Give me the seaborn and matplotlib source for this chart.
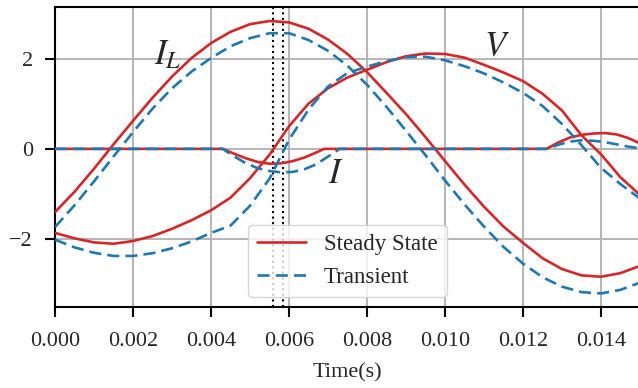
import matplotlib

matplotlib.use("Agg")
import matplotlib.pyplot as plt
import seaborn as sns

t_grid = [0.0, 0.0005, 0.001, 0.0015, 0.002, 0.0025, 0.003, 0.0035, 0.004, 0.0045,
          0.005, 0.0055, 0.006, 0.0065, 0.007, 0.0075, 0.008, 0.0085, 0.009, 0.0095,
          0.010, 0.0105, 0.011, 0.0115, 0.012, 0.0125, 0.013, 0.0135, 0.014, 0.0145,
          0.015]

il_steady = [-1.40, -0.95, -0.44, 0.10, 0.62, 1.13, 1.60, 2.01, 2.34, 2.59,
             2.76, 2.83, 2.80, 2.66, 2.42, 2.10, 1.70, 1.24, 0.77, 0.26,
             -0.27, -0.79, -1.28, -1.72, -2.08, -2.42, -2.66, -2.80, -2.83, -2.75,
             -2.59]
il_transient = [-1.73, -1.25, -0.72, -0.17, 0.37, 0.89, 1.34, 1.71, 2.01, 2.27,
                2.45, 2.56, 2.56, 2.41, 2.17, 1.84, 1.42, 0.93, 0.40, -0.14,
                -0.70, -1.23, -1.72, -2.17, -2.54, -2.84, -3.05, -3.17, -3.20, -3.12,
                -2.96]

v_steady = [-1.86, -1.98, -2.07, -2.10, -2.04, -1.93, -1.77, -1.58, -1.36, -1.08,
            -0.65, -0.13, 0.50, 1.00, 1.34, 1.58, 1.75, 1.92, 2.05, 2.11,
            2.10, 2.02, 1.86, 1.69, 1.50, 1.22, 0.85, 0.30, -0.12, -0.63,
            -1.02]
v_transient = [-2.01, -2.18, -2.30, -2.37, -2.37, -2.31, -2.20, -2.05, -1.86, -1.70,
               -1.26, -0.66, 0.20, 0.87, 1.38, 1.68, 1.82, 1.94, 2.03, 2.04,
               1.96, 1.83, 1.67, 1.47, 1.24, 0.95, 0.55, 0.08, -0.42, -0.78,
               -1.10]

t_i_steady = [0.0, 0.0043, 0.0046, 0.0049, 0.0052, 0.0055, 0.0058, 0.0061, 0.0064,
              0.0067, 0.0069, 0.0126, 0.0129, 0.0132, 0.0135, 0.0138, 0.0141,
              0.0144, 0.0147, 0.015]
i_steady = [0.0, 0.0, -0.11, -0.21, -0.29, -0.33, -0.32, -0.27, -0.19,
            -0.08, 0.0, 0.0, 0.14, 0.25, 0.31, 0.34, 0.35,
            0.32, 0.24, 0.12]

t_i_transient = [0.0, 0.0043, 0.0046, 0.0049, 0.0052, 0.0055, 0.0058, 0.0061, 0.0064,
                 0.0067, 0.0070, 0.0073, 0.0126, 0.0129, 0.0132, 0.0135, 0.0138,
                 0.0141, 0.0144, 0.0147, 0.015]
i_transient = [0.0, 0.0, -0.17, -0.32, -0.43, -0.49, -0.52, -0.51, -0.45,
               -0.34, -0.17, 0.0, 0.0, 0.09, 0.16, 0.19, 0.18,
               0.15, 0.10, 0.05, 0.01]

marker_times = [0.00558, 0.00585]

RED = "#d62728"
BLUE = "#1f77b4"
LW = 1.9
DASH = (0, (4.6, 2.3))


def main():
    sns.set_style("ticks")
    plt.rcParams["font.family"] = ["Liberation Serif", "DejaVu Serif"]
    plt.rcParams["mathtext.fontset"] = "stix"
    plt.rcParams["axes.unicode_minus"] = True

    fig = plt.figure(figsize=(6.38, 3.88), dpi=100)
    ax = fig.add_axes([55 / 638, 81 / 388, 585 / 638, 300 / 388])

    steady = [(t_grid, il_steady), (t_grid, v_steady), (t_i_steady, i_steady)]
    transient = [(t_grid, il_transient), (t_grid, v_transient), (t_i_transient, i_transient)]

    for k, (tx, vals) in enumerate(steady):
        sns.lineplot(x=tx, y=vals, ax=ax, color=RED, linewidth=LW, sort=False,
                     label="Steady State" if k == 0 else None, zorder=3)
    for k, (tx, vals) in enumerate(transient):
        sns.lineplot(x=tx, y=vals, ax=ax, color=BLUE, linewidth=LW, sort=False,
                     label="Transient" if k == 0 else None, zorder=4)
    # dashed style for the transient curves
    for line in ax.get_lines()[3:]:
        line.set_linestyle(DASH)

    for tm in marker_times:
        ax.axvline(tm, color="black", ls=":", lw=1.5, zorder=2)

    ax.text(0.0029, 2.06, "$I_L$", fontsize=25, ha="center", va="center")
    ax.text(0.01133, 2.26, "$V$", fontsize=25, ha="center", va="center")
    ax.text(0.0072, -0.57, "$I$", fontsize=25, ha="center", va="center")

    ax.set_xlim(0, 0.015)
    ax.set_ylim(-3.5, 3.14)
    ax.set_xticks([0.0, 0.002, 0.004, 0.006, 0.008, 0.010, 0.012, 0.014])
    ax.set_yticks([-2, 0, 2])
    ax.xaxis.set_major_formatter(matplotlib.ticker.FormatStrFormatter("%.3f"))
    ax.grid(True, color="#b0b0b0", lw=1.3, zorder=0)
    ax.set_axisbelow(True)

    for side in ["left", "bottom", "top"]:
        ax.spines[side].set_linewidth(1.5)
        ax.spines[side].set_color("black")
    ax.spines["right"].set_visible(False)
    ax.tick_params(axis="both", labelsize=16, length=7, width=1.5, color="black")
    ax.tick_params(axis="x", pad=11)
    ax.tick_params(axis="y", pad=9)

    ax.set_xlabel("Time(s)", fontsize=16, labelpad=9)
    ax.set_ylabel("")

    leg = ax.legend(loc="lower center", fontsize=16.5, frameon=True, fancybox=True,
                    framealpha=0.8, edgecolor="#cccccc", handlelength=2.1,
                    borderaxespad=0.45)
    for h in leg.get_lines():
        h.set_linewidth(LW)
    leg.get_lines()[1].set_linestyle(DASH)
    leg.set_zorder(5)

    fig.savefig("out.png", dpi=100)


if __name__ == "__main__":
    main()
